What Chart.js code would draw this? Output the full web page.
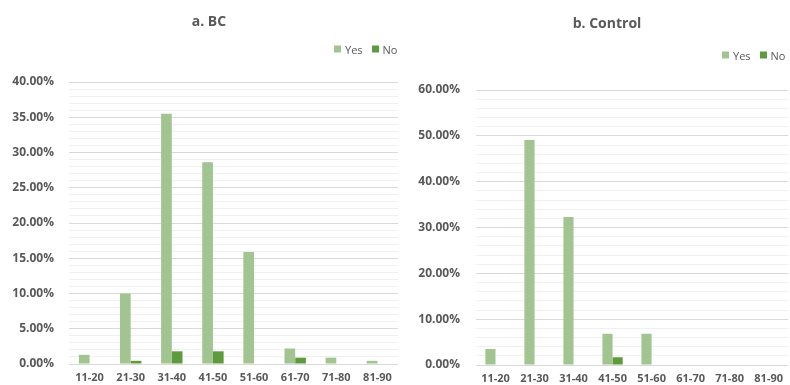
<!DOCTYPE html>
<html>
<head>
<meta charset="utf-8">
<script src="https://cdn.jsdelivr.net/npm/chart.js@4.4.1/dist/chart.umd.min.js"></script>
<style>
  body { margin: 0; background: #fff; font-family: 'Open Sans', sans-serif; }
  #wrap { position: relative; width: 790px; height: 385px; overflow: hidden; }
  canvas { position: absolute; top: 0; }
  .title { position: absolute; font-weight: bold; font-size: 14px; color: #595959; transform: translate(-50%, -50%); white-space: nowrap; }
  .legend { position: absolute; font-size: 11px; color: #595959; display: flex; align-items: center; transform: translateY(-50%); white-space: nowrap; }
  .legend .item { display: flex; align-items: center; margin-right: 9px; }
  .legend .box { display: inline-block; width: 7px; height: 7px; margin-right: 4px; }
</style>
</head>
<body>
<div id="wrap">
  <canvas id="bc" width="400" height="385" style="left:0"></canvas>
  <canvas id="control" width="390" height="385" style="left:400px"></canvas>
</div>
<script>
// Data (percent)
const ageGroups = ['11-20', '21-30', '31-40', '41-50', '51-60', '61-70', '71-80', '81-90'];
const seriesNames = ['Yes', 'No'];
const bcYes = [1.3, 10.0, 35.5, 28.6, 15.9, 2.2, 0.9, 0.45];
const bcNo = [0, 0.45, 1.8, 1.8, 0, 0.9, 0, 0];
const controlYes = [3.5, 49.1, 32.3, 6.8, 6.8, 0, 0, 0];
const controlNo = [0, 0, 0, 1.7, 0, 0, 0, 0];
// y axis: max, minor step, labelled step
const bcAxis = [40, 1, 5];
const controlAxis = [60, 2, 10];

const colors = ['#a1c490', '#5f9b3d'];
const textColor = '#595959';
const xFont = { family: "'Open Sans', sans-serif", size: 11, weight: 'bold' };
// tiny lineHeight so the y labels don't push the chart area up
const yFont = { family: "'Open Sans', sans-serif", size: 12, weight: 'bold', lineHeight: 0.1 };

const wrap = document.getElementById('wrap');

function addTitle(text, x, y) {
  const d = document.createElement('div');
  d.className = 'title';
  d.textContent = text;
  d.style.left = x + 'px';
  d.style.top = y + 'px';
  wrap.appendChild(d);
}

function addLegend(x, y) {
  const d = document.createElement('div');
  d.className = 'legend';
  d.style.left = x + 'px';
  d.style.top = y + 'px';
  d.innerHTML = seriesNames.map((n, i) =>
    `<span class="item"><span class="box" style="background:${colors[i]}"></span>${n}</span>`).join('');
  wrap.appendChild(d);
}

function makeChart(id, yes, no, axis, lay) {
  const [max, step, major] = axis;
  const isMajor = v => Math.round(v / step) % Math.round(major / step) === 0;
  return new Chart(document.getElementById(id), {
    type: 'bar',
    data: {
      labels: ageGroups,
      datasets: [
        { label: seriesNames[0], data: yes, backgroundColor: colors[0] },
        { label: seriesNames[1], data: no, backgroundColor: colors[1] }
      ]
    },
    options: {
      responsive: false,
      animation: false,
      categoryPercentage: 0.52,
      barPercentage: 1,
      layout: { padding: { top: lay.top, right: lay.right, bottom: 0, left: 0 } },
      plugins: { legend: { display: false }, title: { display: false }, tooltip: { enabled: false } },
      scales: {
        x: {
          grid: { display: false, drawTicks: false },
          border: { display: false },
          ticks: { color: textColor, font: xFont, padding: 7, maxRotation: 0, autoSkip: false },
          afterFit: s => { s.height = lay.xh; }
        },
        y: {
          min: 0, max,
          border: { display: false },
          grid: {
            drawTicks: false,
            color: c => isMajor(c.tick.value) ? '#d9d9d9' : '#f0f0f0'
          },
          ticks: {
            stepSize: step, autoSkip: false, color: textColor, font: yFont, padding: lay.pad,
            callback: v => isMajor(v) ? (Math.round(v * 100) / 100).toFixed(2) + '%' : ''
          },
          afterFit: s => { s.width = lay.yw; }
        }
      }
    }
  });
}

makeChart('bc', bcYes, bcNo, bcAxis, { top: 82, right: 2, xh: 21, yw: 69, pad: 15 });
makeChart('control', controlYes, controlNo, controlAxis, { top: 90, right: 0, xh: 20, yw: 76, pad: 16 });

addTitle('a. BC', 209, 20);
addTitle('b. Control', 607, 22);
addLegend(334, 49);
addLegend(722, 55);
</script>
</body>
</html>
